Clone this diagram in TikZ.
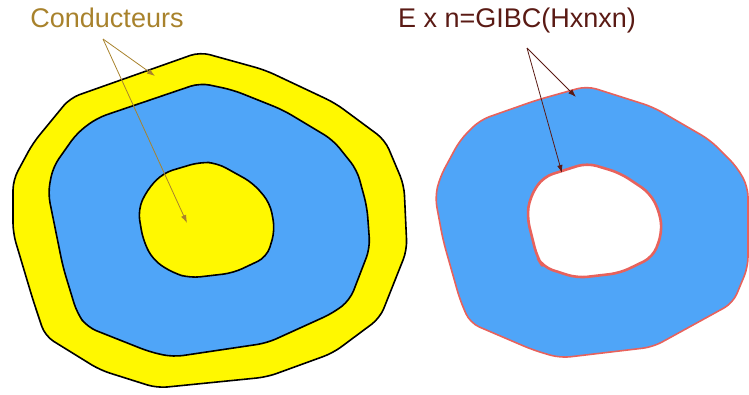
\documentclass[tikz,border=0pt]{standalone}
\usepackage{fontspec}
\setmainfont{Liberation Sans}
\usetikzlibrary{arrows.meta}
\definecolor{condyellow}{HTML}{FFF800}
\definecolor{diblue}{HTML}{4FA5F8}
\definecolor{gibcred}{HTML}{E8625C}
\definecolor{labgold}{HTML}{A8822C}
\definecolor{labmaroon}{HTML}{5A1A14}
\begin{document}
\begin{tikzpicture}[x=1pt,y=-1pt,line join=round,
    conductor/.style={fill=condyellow,draw=black,line width=1.6pt,rounded corners=10pt},
    dielectric/.style={fill=diblue,draw=black,line width=1.6pt,rounded corners=10pt},
    gibc line/.style={draw=gibcred,rounded corners=10pt},
    label text/.style={font=\fontsize{27}{30}\selectfont,anchor=base,inner sep=0pt},
    pointer/.style={line width=0.8pt,-{Latex[length=8pt,width=5.5pt]}} ]
    \useasboundingbox (0,0) rectangle (749,394);
    % left: conductors around the dielectric
    \draw [conductor] (70,98) -- (200,52) -- (265,70) -- (335,103) -- (385,140)
        -- (404,185) -- (407,250) -- (380,318) -- (333,353) -- (267,377)
        -- (157,388) -- (100,370) -- (45,336) -- (33,300) -- (13,233)
        -- (13,180) -- (33,143) -- cycle;
    \draw [dielectric] (97,118) -- (200,83) -- (233,90) -- (283,110) -- (333,140)
        -- (357,170) -- (367,207) -- (370,248) -- (350,300) -- (333,313)
        -- (267,343) -- (173,357) -- (150,352) -- (87,327) -- (77,313)
        -- (63,267) -- (48,193) -- (53,167) -- (77,133) -- cycle;
    \draw [conductor] (163,173) -- (200,162) -- (217,163) -- (253,183) -- (270,203)
        -- (275,230) -- (267,257) -- (233,273) -- (190,278) -- (173,273)
        -- (153,260) -- (143,240) -- (138,210) -- (147,190) -- cycle;
    % right: dielectric alone, GIBC on its boundary
    \path [fill=diblue,even odd rule,rounded corners=10pt]
        (480,120) -- (537,100) -- (587,86) -- (653,107) -- (710,140) -- (737,167)
        -- (748,187) -- (748,267) -- (733,303) -- (653,347) -- (560,358)
        -- (533,350) -- (470,323) -- (460,300) -- (443,240) -- (435,197)
        -- (440,177) -- (460,140) -- cycle
        (543,177) -- (587,163) -- (620,173) -- (650,193) -- (660,213) -- (662,233)
        -- (653,257) -- (620,273) -- (577,278) -- (543,267) -- (537,257)
        -- (527,217) -- (530,197) -- cycle;
    \draw [gibc line,line width=1.6pt] (480,120) -- (537,100) -- (587,86) -- (653,107)
        -- (710,140) -- (737,167) -- (748,187) -- (748,267) -- (733,303)
        -- (653,347) -- (560,358) -- (533,350) -- (470,323) -- (460,300)
        -- (443,240) -- (435,197) -- (440,177) -- (460,140) -- cycle;
    \draw [gibc line,line width=2.6pt] (543,177) -- (587,163) -- (620,173) -- (650,193)
        -- (660,213) -- (662,233) -- (653,257) -- (620,273) -- (577,278)
        -- (543,267) -- (537,257) -- (527,217) -- (530,197) -- cycle;
    % labels
    \node [label text,text=labgold] (cond) at (107,27) {Conducteurs};
    \node [label text,text=labmaroon] (gibc) at (517,27) {E x n=GIBC(Hxnxn)};
    \coordinate (c0) at (103,39);
    \coordinate (c1) at (155,76);
    \coordinate (c2) at (187,223);
    \coordinate (g0) at (527,48);
    \coordinate (g1) at (576,97);
    \coordinate (g2) at (562,173);
    \draw [pointer,labgold] (c0) to (c1);
    \draw [pointer,labgold] (c0) to (c2);
    \draw [pointer,labmaroon] (g0) to (g1);
    \draw [pointer,labmaroon] (g0) to (g2);
\end{tikzpicture}
\end{document}
